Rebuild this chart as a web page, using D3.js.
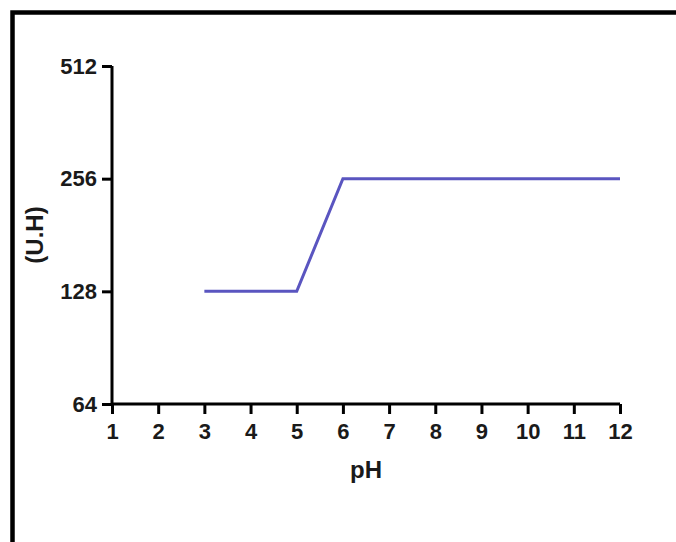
<!DOCTYPE html>
<html>
<head>
<meta charset="utf-8">
<script src="https://cdn.jsdelivr.net/npm/d3@7"></script>
<style>
  body { margin: 0; background: #fff; }
  svg { display: block; }
</style>
</head>
<body>
<div id="vis"></div>
<script>
var width = 676;
var height = 542;

// data
var phValues = [3, 4, 5, 6, 7, 8, 9, 10, 11, 12];
var titers = [128, 128, 128, 256, 256, 256, 256, 256, 256, 256];
var xTicks = [1, 2, 3, 4, 5, 6, 7, 8, 9, 10, 11, 12];
var yTicks = [64, 128, 256, 512];

var margin = {top: 66, right: 56, bottom: 138, left: 112};

var svg = d3.select("#vis")
  .append("svg")
  .attr("width", width)
  .attr("height", height);

// frame round the whole figure (cut off at right and bottom)
svg.append("rect")
  .attr("x", 12.5)
  .attr("y", 12.5)
  .attr("width", width + 20)
  .attr("height", height + 20)
  .attr("fill", "none")
  .attr("stroke", "#000")
  .attr("stroke-width", 4.5);

var x = d3.scaleLinear()
  .domain([1, 12])
  .range([margin.left, width - margin.right]);

var y = d3.scaleLog()
  .base(2)
  .domain([64, 512])
  .range([height - margin.bottom, margin.top]);

var xAxis = svg.append("g")
  .attr("transform", `translate(0,${height - margin.bottom})`)
  .call(d3.axisBottom(x).tickValues(xTicks).tickSize(10).tickPadding(9).tickFormat(d3.format("d")));

var yAxis = svg.append("g")
  .attr("transform", `translate(${margin.left},0)`)
  .call(d3.axisLeft(y).tickValues(yTicks).tickSize(10).tickPadding(5).tickFormat(d3.format("d")));

[xAxis, yAxis].forEach(function(a) {
  a.select(".domain").attr("stroke-width", 3);
  a.selectAll(".tick line").attr("stroke-width", 3);
  a.selectAll("text")
    .attr("fill", "#1a1a1a")
    .style("font", "bold 22px 'Liberation Sans', Arial, sans-serif");
});
// plain domain lines (no outer tick caps)
xAxis.select(".domain").attr("d", `M${x(1)},0H${x(12)}`);
yAxis.select(".domain").attr("d", `M0,${y(64)}V${y(512)}`);

svg.append("text")
  .attr("x", (x(1) + x(12)) / 2)
  .attr("y", 478)
  .attr("text-anchor", "middle")
  .attr("fill", "#1a1a1a")
  .style("font", "bold 24px 'Liberation Sans', Arial, sans-serif")
  .text("pH");

svg.append("text")
  .attr("transform", `translate(43,${(y(64) + y(512)) / 2}) rotate(-90)`)
  .attr("text-anchor", "middle")
  .attr("fill", "#1a1a1a")
  .style("font", "bold 24px 'Liberation Sans', Arial, sans-serif")
  .text("(U.H)");

var line = d3.line()
  .x((d, i) => x(phValues[i]))
  .y(d => y(d));

svg.append("path")
  .datum(titers)
  .attr("fill", "none")
  .attr("stroke", "#5a55c0")
  .attr("stroke-width", 3)
  .attr("d", line);
</script>
</body>
</html>
